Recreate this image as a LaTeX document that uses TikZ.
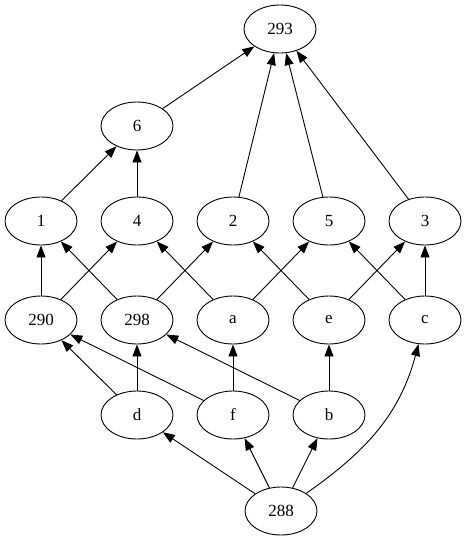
\documentclass[tikz,border=0pt]{standalone}
\usepackage{fontspec}
\setmainfont{Liberation Serif}
\usetikzlibrary{shapes.geometric,arrows.meta}
\begin{document}
\begin{tikzpicture}[x=1pt,y=1pt,
  vtx/.style={draw,ellipse,minimum width=72pt,minimum height=48pt,inner sep=0pt,line width=0.9pt,font=\fontsize{17}{20}\selectfont},
  edge/.style={line width=0.9pt,-{Triangle[length=12pt,width=9pt]}}]
\useasboundingbox (0,0) rectangle (467,-539);
\node[vtx] (n293) at (280,-29) {293};
\node[vtx] (n6) at (137,-126) {6};
\node[vtx] (n1) at (41,-221) {1};
\node[vtx] (n4) at (137,-221) {4};
\node[vtx] (n2) at (233,-221) {2};
\node[vtx] (n5) at (329,-221) {5};
\node[vtx] (n3) at (425,-221) {3};
\node[vtx] (n290) at (41,-320) {290};
\node[vtx] (n298) at (137,-320) {298};
\node[vtx] (na) at (233,-320) {a};
\node[vtx] (ne) at (329,-320) {e};
\node[vtx] (nc) at (425,-320) {c};
\node[vtx] (nd) at (137,-415) {d};
\node[vtx] (nf) at (233,-415) {f};
\node[vtx] (nb) at (329,-415) {b};
\node[vtx] (n288) at (281,-511) {288};
\draw[edge] (n6) -- (n293);
\draw[edge] (n2) -- (n293);
\draw[edge] (n5) -- (n293);
\draw[edge] (n3) -- (n293);
\draw[edge] (n1) -- (n6);
\draw[edge] (n4) -- (n6);
\draw[edge] (n290) -- (n1);
\draw[edge] (n290) -- (n4);
\draw[edge] (n298) -- (n1);
\draw[edge] (n298) -- (n2);
\draw[edge] (na) -- (n4);
\draw[edge] (na) -- (n5);
\draw[edge] (ne) -- (n2);
\draw[edge] (ne) -- (n3);
\draw[edge] (nc) -- (n5);
\draw[edge] (nc) -- (n3);
\draw[edge] (nd) -- (n290);
\draw[edge] (nd) -- (n298);
\draw[edge] (nf) -- (n290);
\draw[edge] (nf) -- (na);
\draw[edge] (nb) -- (n298);
\draw[edge] (nb) -- (ne);
\draw[edge] (n288) -- (nd);
\draw[edge] (n288) -- (nf);
\draw[edge] (n288) -- (nb);
\draw[edge] (n288) to[out=35,in=-105] (nc);
\end{tikzpicture}
\end{document}
